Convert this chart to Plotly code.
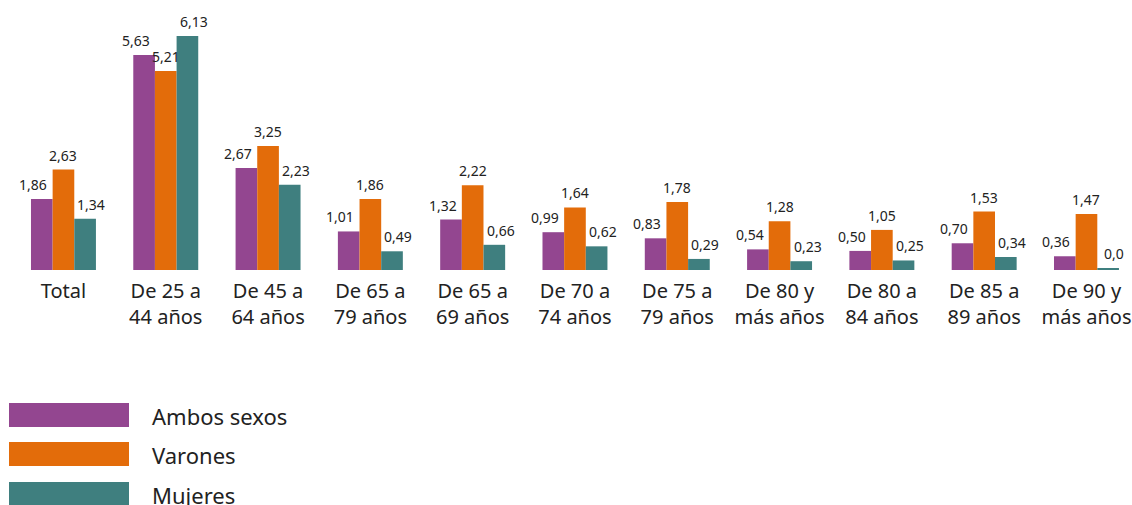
import plotly.graph_objects as go

categories = ["Total", "De 25 a<br>44 años", "De 45 a<br>64 años", "De 65 a<br>79 años",
              "De 65 a<br>69 años", "De 70 a<br>74 años", "De 75 a<br>79 años",
              "De 80 y<br>más años", "De 80 a<br>84 años", "De 85 a<br>89 años",
              "De 90 y<br>más años"]
series_names = ["Ambos sexos", "Varones", "Mujeres"]
ambos = [1.86, 5.63, 2.67, 1.01, 1.32, 0.99, 0.83, 0.54, 0.50, 0.70, 0.36]
varones = [2.63, 5.21, 3.25, 1.86, 2.22, 1.64, 1.78, 1.28, 1.05, 1.53, 1.47]
mujeres = [1.34, 6.13, 2.23, 0.49, 0.66, 0.62, 0.29, 0.23, 0.25, 0.34, 0.04]
ambos_lbl = ["1,86", "5,63", "2,67", "1,01", "1,32", "0,99", "0,83", "0,54", "0,50", "0,70", "0,36"]
varones_lbl = ["2,63", "5,21", "3,25", "1,86", "2,22", "1,64", "1,78", "1,28", "1,05", "1,53", "1,47"]
mujeres_lbl = ["1,34", "6,13", "2,23", "0,49", "0,66", "0,62", "0,29", "0,23", "0,25", "0,34", "0,0"]
colors = ["#934690", "#E36C0A", "#3F7F7F"]

FONT = "Noto Sans"
W, H = 1132, 505
L, R, T, B = 12, 0, 10, 235
pw, ph = W - L - R, H - T - B

fig = go.Figure()
series = [ambos, varones, mujeres]
labels = [ambos_lbl, varones_lbl, mujeres_lbl]
xs = list(range(len(categories)))
for name, vals, col in zip(series_names, series, colors):
    fig.add_trace(go.Bar(x=xs, y=vals, name=name, marker=dict(color=col, line=dict(width=0)),
                         showlegend=False, hoverinfo="skip"))

shifts = [-30, 0, 28]
annotations = []
for vals, lbls, sh in zip(series, labels, shifts):
    for i, (v, t) in enumerate(zip(vals, lbls)):
        annotations.append(dict(x=i, y=v, text=t, showarrow=False, xref="x", yref="y",
                                xanchor="center", yanchor="bottom", xshift=sh, yshift=3,
                                font=dict(family=FONT, size=14, color="#222222")))

def px_x(x):
    return (x - L) / pw

def px_y(y):
    return (H - B - y) / ph

# legend built from swatches
shapes = []
leg_tops = [403, 442, 482]
for name, col, top in zip(series_names, colors, leg_tops):
    shapes.append(dict(type="rect", xref="paper", yref="paper",
                       x0=px_x(9), x1=px_x(129), y0=px_y(top), y1=px_y(top + 24),
                       fillcolor=col, line=dict(width=0)))
    annotations.append(dict(x=px_x(150), y=px_y(top + 13), xref="paper", yref="paper",
                            text=name, showarrow=False, xanchor="left", yanchor="middle",
                            font=dict(family=FONT, size=22, color="#222222")))

fig.update_layout(
    width=W, height=H,
    margin=dict(l=L, r=R, t=T, b=B, pad=0),
    paper_bgcolor="white", plot_bgcolor="white",
    barmode="group", bargap=0.365, bargroupgap=0,
    annotations=annotations, shapes=shapes,
    xaxis=dict(tickmode="array", tickvals=xs, ticktext=categories, range=[-0.503, 10.445],
               showgrid=False, zeroline=False, showline=False, ticks="",
               ticklabelstandoff=7,
               tickfont=dict(family=FONT, size=20, color="#222222")),
    yaxis=dict(range=[0, 6.81], visible=False, showgrid=False, zeroline=False),
)
fig.write_html("out.html", config={"displayModeBar": False},
               post_script="document.body.style.margin='0';document.body.style.overflow='hidden';")
